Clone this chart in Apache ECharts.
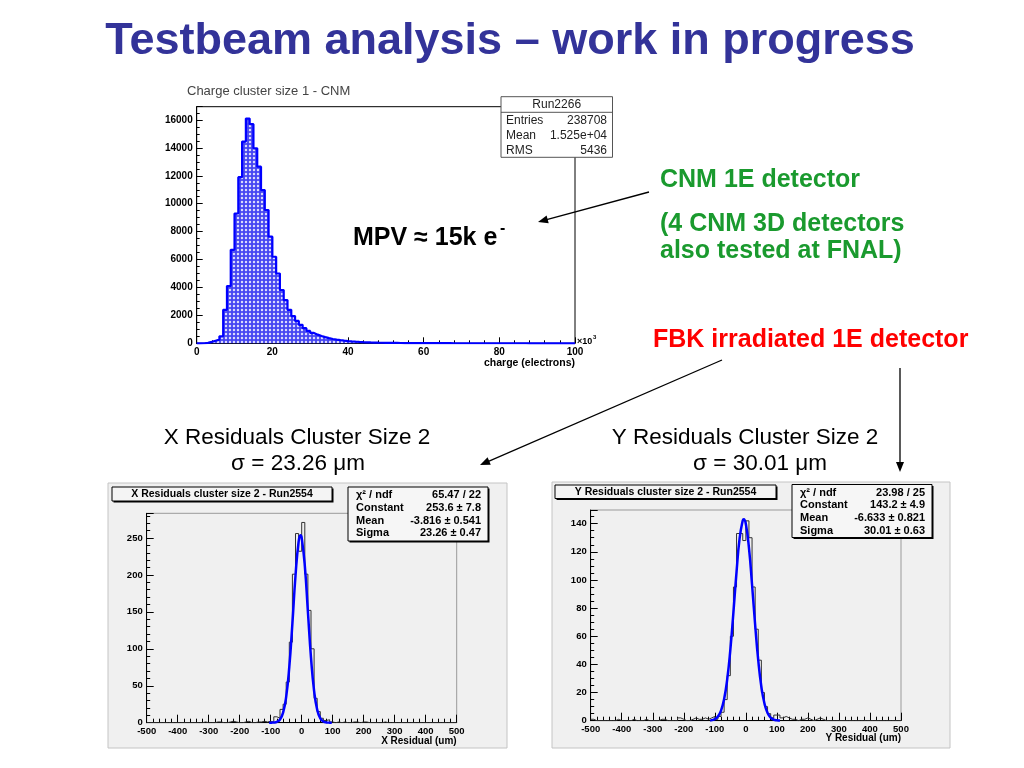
<!DOCTYPE html>
<html>
<head>
<meta charset="utf-8">
<script src="https://cdn.jsdelivr.net/npm/echarts@6/dist/echarts.min.js"></script>
<style>
html,body{margin:0;padding:0;background:#ffffff;}
#c{width:1024px;height:768px;}
</style>
</head>
<body>
<div id="c"></div>
<script>
// ---------------- DATA ----------------
// Charge cluster size 1 - CNM (bins of 1 k electrons, 0 .. 100 k)
const chargeBinLow = 0;
const chargeBinWidth = 1;
const chargeCounts = [
  0, 5, 30, 100, 180, 260, 500, 2400, 4100, 6700,
  9300, 11900, 14450, 16100, 15700, 13970, 12650, 10980, 9550, 7640,
  6200, 5000, 3820, 3100, 2400, 1950, 1600, 1320, 1080, 890,
  740, 620, 520, 440, 370, 310, 265, 225, 190, 160,
  135, 115, 98, 84, 72, 62, 54, 46, 40, 35,
  30, 27, 24, 21, 19, 17, 15, 14, 12, 11,
  10, 9, 8, 8, 7, 6, 6, 5, 5, 5,
  4, 4, 4, 3, 3, 3, 3, 3, 2, 2,
  2, 2, 2, 2, 2, 2, 2, 1, 1, 1,
  1, 1, 1, 1, 1, 1, 1, 1, 1, 1
];
const chargeTicks = [0, 20, 40, 60, 80, 100];
const chargeCountTicks = [0, 2000, 4000, 6000, 8000, 10000, 12000, 14000, 16000];
const chargeCountMax = 16950;

// X residuals cluster size 2 - Run2554 (bins of 10 um, -500 .. 500)
const resBinLow = -500;
const resBinWidth = 10;
const xResCounts = [
  0, 0, 0, 0, 0, 0, 0, 0, 0, 0,
  0, 0, 0, 0, 0, 0, 0, 0, 1, 0,
  0, 0, 1, 1, 0, 0, 1, 2, 1, 0,
  0, 1, 2, 0, 0, 1, 1, 2, 1, 2,
  1, 8, 6, 18, 25, 55, 109, 201, 256, 232,
  271, 201, 152, 100, 33, 15, 6, 3, 4, 1,
  0, 1, 0, 1, 0, 0, 1, 1, 0, 1,
  1, 0, 0, 0, 0, 0, 1, 0, 0, 0,
  0, 0, 0, 0, 0, 0, 0, 0, 0, 0,
  0, 0, 0, 0, 0, 0, 0, 0, 0, 0
];
// Gaussian fit curve (um, counts)
const xFitPos = [-105, -97, -90, -80, -70, -60, -50, -40, -30, -20, -10, -4, 0, 10, 20, 30, 40, 50, 60, 70, 80, 90, 97];
const xFitVal = [0.02, 0.08, 0.26, 1.2, 4.4, 13.7, 35.3, 75.6, 134.5, 198.9, 244.8, 253.6, 250.2, 212.7, 150.3, 88.2, 43.1, 17.5, 5.9, 1.66, 0.39, 0.07, 0.02];
const xCountTicks = [0, 50, 100, 150, 200, 250];
const xCountMax = 283.4;

// Y residuals cluster size 2 - Run2554
const yResCounts = [
  1, 0, 0, 0, 0, 0, 0, 0, 1, 0,
  0, 0, 0, 1, 0, 0, 0, 1, 0, 0,
  0, 0, 1, 1, 0, 0, 0, 0, 2, 1,
  0, 0, 1, 2, 1, 1, 2, 1, 2, 3,
  1, 3, 6, 15, 32, 60, 95, 133, 133, 128,
  142, 130, 95, 65, 43, 20, 10, 5, 2, 4,
  4, 2, 3, 2, 1, 1, 0, 1, 1, 2,
  1, 0, 1, 2, 1, 0, 0, 0, 0, 0,
  0, 0, 0, 0, 0, 0, 0, 0, 0, 0,
  0, 0, 0, 0, 0, 0, 0, 0, 0, 0
];
const yFitPos = [-115, -110, -100, -90, -80, -70, -60, -50, -40, -30, -20, -10, -6.6, 0, 10, 20, 30, 40, 50, 60, 70, 80, 90, 100, 110];
const yFitVal = [0.21, 0.38, 1.13, 3.0, 7.2, 15.4, 29.5, 50.4, 77.2, 105.8, 129.7, 142.3, 143.2, 139.7, 122.8, 96.6, 68.0, 42.8, 24.1, 12.2, 5.5, 2.2, 0.8, 0.26, 0.08];
const yCountTicks = [0, 20, 40, 60, 80, 100, 120, 140];
const yCountMax = 149.7;

const residualTicks = [-500, -400, -300, -200, -100, 0, 100, 200, 300, 400, 500];

const chargeStats = [['Entries', '238708'], ['Mean', '1.525e+04'], ['RMS', '5436']];
const xStats = [['\u03c7\u00b2 / ndf', '65.47 / 22'], ['Constant', '253.6 \u00b1 7.8'], ['Mean', '-3.816 \u00b1 0.541'], ['Sigma', '23.26 \u00b1 0.47']];
const yStats = [['\u03c7\u00b2 / ndf', '23.98 / 25'], ['Constant', '143.2 \u00b1 4.9'], ['Mean', '-6.633 \u00b1 0.821'], ['Sigma', '30.01 \u00b1 0.63']];

// ---------------- HELPERS ----------------
const FF = '"Liberation Sans", Arial, Helvetica, sans-serif';

function stepData(lo, w, counts) {
  const d = counts.map((c, i) => [lo + i * w, c]);
  d.push([lo + counts.length * w, counts[counts.length - 1]]);
  return d;
}
function zip(xs, ys) { return xs.map((x, i) => [x, ys[i]]); }

function hatch() {
  const cv = document.createElement('canvas');
  cv.width = 4; cv.height = 4;
  const g = cv.getContext('2d');
  g.fillStyle = '#4646f2'; g.fillRect(0, 0, 4, 4);
  g.fillStyle = 'rgba(255,255,255,0.95)';
  g.beginPath(); g.moveTo(2, 0.6); g.lineTo(3.4, 2); g.lineTo(2, 3.4); g.lineTo(0.6, 2); g.closePath(); g.fill();
  return cv;
}

function xAxisCfg(grid, ticks, labelSize, tickLen, minorLen) {
  return {
    type: 'value', gridIndex: grid,
    min: ticks[0], max: ticks[ticks.length - 1], interval: ticks[1] - ticks[0],
    axisLine: { show: true, onZero: false, lineStyle: { color: '#000', width: 1 } },
    axisTick: { show: true, inside: true, length: tickLen, lineStyle: { color: '#000', width: 1 } },
    minorTick: { show: true, splitNumber: 5, length: minorLen, lineStyle: { color: '#000', width: 1 } },
    splitLine: { show: false }, minorSplitLine: { show: false },
    axisLabel: { color: '#000', fontFamily: FF, fontWeight: 'bold', fontSize: labelSize, margin: 4 }
  };
}
function yAxisCfg(grid, ticks, max, split, labelSize, tickLen, minorLen) {
  return {
    type: 'value', gridIndex: grid,
    min: ticks[0], max: max, interval: ticks[1] - ticks[0],
    axisLine: { show: true, onZero: false, lineStyle: { color: '#000', width: 1 } },
    axisTick: { show: true, inside: true, length: tickLen, lineStyle: { color: '#000', width: 1 } },
    minorTick: { show: true, splitNumber: split, length: minorLen, lineStyle: { color: '#000', width: 1 } },
    splitLine: { show: false }, minorSplitLine: { show: false },
    axisLabel: {
      color: '#000', fontFamily: FF, fontWeight: 'bold', fontSize: labelSize, margin: 4,
      formatter: v => (ticks.indexOf(v) >= 0 ? String(v) : '')
    }
  };
}

function txt(x, y, text, font, fill, align) {
  return {
    type: 'text', x: x, y: y, z: 100,
    style: { text: text, font: font, fill: fill, textAlign: align || 'left', textVerticalAlign: 'middle', align: align || 'left', verticalAlign: 'middle' }
  };
}
function rect(x, y, w, h, fill, stroke, lw, z) {
  return { type: 'rect', z: z, shape: { x: x, y: y, width: w, height: h }, style: { fill: fill, stroke: stroke || null, lineWidth: lw || 0 } };
}
function arrow(x1, y1, x2, y2) {
  const dx = x2 - x1, dy = y2 - y1, L = Math.hypot(dx, dy), ux = dx / L, uy = dy / L;
  const hl = 10, hw = 4;
  const bx = x2 - ux * hl, by = y2 - uy * hl;
  return [
    { type: 'line', z: 100, shape: { x1: x1, y1: y1, x2: bx + ux * 2, y2: by + uy * 2 }, style: { stroke: '#000', lineWidth: 1.3 } },
    { type: 'polygon', z: 100, shape: { points: [[x2, y2], [bx - uy * hw, by + ux * hw], [bx + uy * hw, by - ux * hw]] }, style: { fill: '#000' } }
  ];
}
function statBox(x, y, w, h, rows, y0, dy, lx, rx, font) {
  const els = [
    rect(x + 1.5, y + 1.5, w, h, '#000', null, 0, 90),
    rect(x, y, w, h, '#f6f6f6', '#000', 1, 91)
  ];
  rows.forEach((r, i) => {
    els.push(txt(lx, y0 + i * dy, r[0], font, '#000', 'left'));
    els.push(txt(rx, y0 + i * dy, r[1], font, '#000', 'right'));
  });
  return els;
}

// ---------------- GRAPHICS ----------------
const G = [];
// panel backgrounds
G.push(rect(108, 483, 399, 265, '#f0f0f0', '#c4c4c4', 1, -10));
G.push(rect(552, 482, 398, 266, '#f0f0f0', '#c4c4c4', 1, -10));

// title
G.push(txt(510, 42, 'Testbeam analysis \u2013 work in progress', 'bold 45px ' + FF, '#333399', 'center'));

// top histogram decorations
G.push(txt(187, 91.5, 'Charge cluster size 1 - CNM', '13px ' + FF, '#444', 'left'));
G.push(rect(501, 96.7, 111.5, 60.6, '#ffffff', '#555', 1, 91));
G.push({ type: 'line', z: 92, shape: { x1: 501, y1: 112.3, x2: 612.5, y2: 112.3 }, style: { stroke: '#555', lineWidth: 1 } });
G.push(txt(556.7, 104.5, 'Run2266', '12px ' + FF, '#222', 'center'));
chargeStats.forEach((r, i) => {
  G.push(txt(506, 120.5 + i * 15, r[0], '12px ' + FF, '#222', 'left'));
  G.push(txt(607, 120.5 + i * 15, r[1], '12px ' + FF, '#222', 'right'));
});
G.push(txt(577, 342, '\u00d710', 'bold 9px ' + FF, '#000', 'left'));
G.push(txt(593, 337, '3', 'bold 6px ' + FF, '#000', 'left'));
G.push(txt(575, 363, 'charge (electrons)', 'bold 10.5px ' + FF, '#000', 'right'));
G.push(txt(353, 238, 'MPV \u2248 15k e', 'bold 25px ' + FF, '#000', 'left'));
G.push(txt(500, 229, '-', 'bold 16px ' + FF, '#000', 'left'));

// right annotations
G.push(txt(660, 180, 'CNM 1E detector', 'bold 25px ' + FF, '#1a9a2e', 'left'));
G.push(txt(660, 224, '(4 CNM 3D detectors', 'bold 25px ' + FF, '#1a9a2e', 'left'));
G.push(txt(660, 251, 'also tested at FNAL)', 'bold 25px ' + FF, '#1a9a2e', 'left'));
G.push(txt(653, 340.5, 'FBK irradiated 1E detector', 'bold 25px ' + FF, '#ff0000', 'left'));

// residual captions
G.push(txt(297, 438, 'X Residuals Cluster Size 2', '22.5px ' + FF, '#000', 'center'));
G.push(txt(298, 464, '\u03c3 = 23.26 \u03bcm', '22.5px ' + FF, '#000', 'center'));
G.push(txt(745, 438, 'Y Residuals Cluster Size 2', '22.5px ' + FF, '#000', 'center'));
G.push(txt(760, 464, '\u03c3 = 30.01 \u03bcm', '22.5px ' + FF, '#000', 'center'));

// arrows
G.push(...arrow(649, 192, 538, 222));
G.push(...arrow(722, 360, 480, 465));
G.push(...arrow(900, 368, 900, 472));

// residual panels: title boxes, stats boxes, axis titles
G.push(rect(113.5, 488.5, 220, 14, '#000', null, 0, 90));
G.push(rect(112, 487, 220, 14, '#f4f4f4', '#000', 1, 91));
G.push(txt(222, 494, 'X Residuals cluster size 2 - Run2554', 'bold 10.5px ' + FF, '#000', 'center'));
G.push(...statBox(348, 487, 140, 54, xStats, 495, 12.8, 356, 481, 'bold 11px ' + FF));
G.push(txt(456.7, 741, 'X Residual (um)', 'bold 10px ' + FF, '#000', 'right'));

G.push(rect(556.5, 486.5, 221, 13.5, '#000', null, 0, 90));
G.push(rect(555, 485, 221, 13.5, '#f4f4f4', '#000', 1, 91));
G.push(txt(665.5, 491.8, 'Y Residuals cluster size 2 - Run2554', 'bold 10.5px ' + FF, '#000', 'center'));
G.push(...statBox(792, 484.5, 140, 53, yStats, 492.7, 12.7, 800, 925, 'bold 11px ' + FF));
G.push(txt(901, 738, 'Y Residual (um)', 'bold 10px ' + FF, '#000', 'right'));

// ---------------- CHART ----------------
const chart = echarts.init(document.getElementById('c'), null, { renderer: 'canvas', width: 1024, height: 768 });
const option = {
  animation: false,
  backgroundColor: '#ffffff',
  grid: [
    { left: 196.7, top: 106.7, width: 378.3, height: 236.6, show: true, borderColor: '#000', borderWidth: 1, backgroundColor: 'transparent', containLabel: false, outerBoundsMode: 'none' },
    { left: 146.7, top: 513.3, width: 310, height: 209.4, show: true, borderColor: '#9a9a9a', borderWidth: 1, backgroundColor: 'transparent', containLabel: false, outerBoundsMode: 'none' },
    { left: 590.7, top: 510, width: 310.3, height: 210.7, show: true, borderColor: '#9a9a9a', borderWidth: 1, backgroundColor: 'transparent', containLabel: false, outerBoundsMode: 'none' }
  ],
  xAxis: [
    xAxisCfg(0, chargeTicks, 10, 6, 3),
    xAxisCfg(1, residualTicks, 9.5, 8, 4),
    xAxisCfg(2, residualTicks, 9.5, 8, 4)
  ],
  yAxis: [
    yAxisCfg(0, chargeCountTicks, chargeCountMax, 4, 10, 6, 3),
    yAxisCfg(1, xCountTicks, xCountMax, 5, 9.5, 7, 3.5),
    yAxisCfg(2, yCountTicks, yCountMax, 4, 9.5, 7, 3.5)
  ],
  series: [
    {
      type: 'line', xAxisIndex: 0, yAxisIndex: 0, step: 'end', symbol: 'none', z: 3,
      data: stepData(chargeBinLow, chargeBinWidth, chargeCounts),
      lineStyle: { color: '#0000ff', width: 2.2 },
      areaStyle: { color: { image: hatch(), repeat: 'repeat' }, opacity: 1 }
    },
    {
      type: 'line', xAxisIndex: 1, yAxisIndex: 1, step: 'end', symbol: 'none', z: 3,
      data: stepData(resBinLow, resBinWidth, xResCounts),
      lineStyle: { color: '#333', width: 1 }
    },
    {
      type: 'line', xAxisIndex: 1, yAxisIndex: 1, smooth: true, symbol: 'none', z: 4,
      data: zip(xFitPos, xFitVal),
      lineStyle: { color: '#0000ff', width: 2.5 }
    },
    {
      type: 'line', xAxisIndex: 2, yAxisIndex: 2, step: 'end', symbol: 'none', z: 3,
      data: stepData(resBinLow, resBinWidth, yResCounts),
      lineStyle: { color: '#333', width: 1 }
    },
    {
      type: 'line', xAxisIndex: 2, yAxisIndex: 2, smooth: true, symbol: 'none', z: 4,
      data: zip(yFitPos, yFitVal),
      lineStyle: { color: '#0000ff', width: 2.5 }
    }
  ],
  graphic: { elements: G }
};
chart.setOption(option);
</script>
</body>
</html>
